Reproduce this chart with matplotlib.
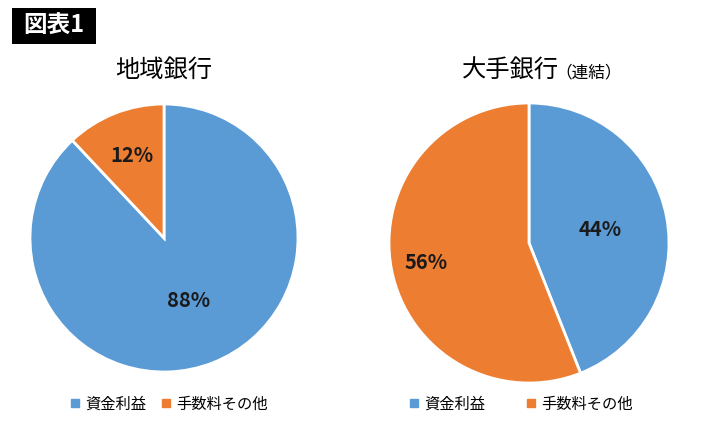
import numpy as np
import matplotlib
matplotlib.use("Agg")
import matplotlib.pyplot as plt
from matplotlib.lines import Line2D
from matplotlib.patches import Rectangle

plt.rcParams['font.family'] = ['Noto Sans CJK JP', 'DejaVu Sans']

categories = ['資金利益', '手数料その他']
regional = [88, 12]
major = [44, 56]
colors = ['#5B9BD5', '#ED7D31']

W, H = 710, 426
fig = plt.figure(figsize=(W / 100, H / 100), dpi=100)


def pie_axes(cx, cy, r):
    # pixel centre/radius (top-left origin) -> figure axes
    return fig.add_axes([(cx - r) / W, 1 - (cy + r) / H, 2 * r / W, 2 * r / H])


def draw_pie(ax, values, dists):
    wedges, _ = ax.pie(values, colors=colors, startangle=90, counterclock=False,
                       radius=1, wedgeprops=dict(edgecolor='white', linewidth=2))
    for w, v, d in zip(wedges, values, dists):
        ang = np.deg2rad((w.theta1 + w.theta2) / 2)
        ax.text(d * np.cos(ang), d * np.sin(ang), f'{v}%', ha='center', va='center',
                fontsize=14.5, fontweight='bold', color='#1a1a1a')
    ax.set_xlim(-1, 1)
    ax.set_ylim(-1, 1)
    ax.set_aspect('equal')
    ax.axis('off')


ax1 = pie_axes(164, 238, 134)
draw_pie(ax1, regional, [0.5, 0.66])

ax2 = pie_axes(529, 243, 140)
draw_pie(ax2, major, [0.52, 0.75])

# titles
fig.text(164 / W, 1 - 70 / H, '地域銀行', ha='center', va='center', fontsize=17.5)
fig.text(559 / W, 1 - 71 / H, '大手銀行', ha='right', va='center', fontsize=17.5)
fig.text(555 / W, 1 - 73 / H, '（連結）', ha='left', va='center', fontsize=12)

# label box
fig.patches.append(Rectangle((12 / W, 1 - 44 / H), 84 / W, 36 / H, transform=fig.transFigure,
                             facecolor='black', edgecolor='none'))
fig.text(54 / W, 1 - 26 / H, '図表1', ha='center', va='center', fontsize=17,
         fontweight='bold', color='white')

# legends
handles = [Line2D([], [], marker='s', linestyle='none', markersize=5.5,
                  markerfacecolor=c, markeredgecolor=c) for c in colors]
for x, spacing in [(169, 1.0), (521, 2.7)]:
    fig.legend(handles, categories, loc='center', bbox_to_anchor=(x / W, 1 - 404 / H),
               ncol=2, frameon=False, fontsize=11, handlelength=0.6, handletextpad=0.35,
               columnspacing=spacing)

fig.savefig('out.png', dpi=100, facecolor='white')
